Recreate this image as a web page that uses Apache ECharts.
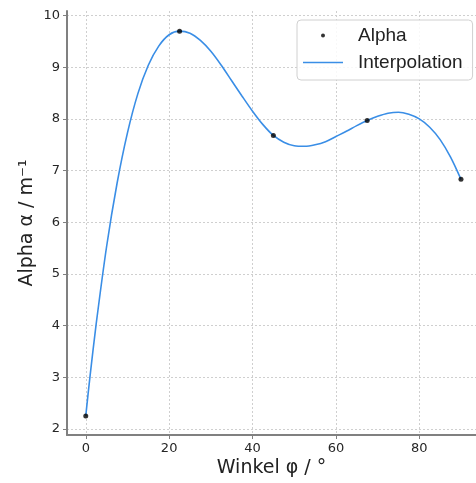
<!DOCTYPE html>
<html>
<head>
<meta charset="utf-8">
<script src="https://cdn.jsdelivr.net/npm/echarts@6/dist/echarts.min.js"></script>
<style>
  html, body { margin: 0; padding: 0; background: #fff; }
  #chart { width: 476px; height: 483px; }
</style>
</head>
<body>
<div id="chart"></div>
<script>
// Messpunkte
let pointX = [0, 22.5, 45, 67.5, 90]
let pointY = [2.25, 9.7, 7.68, 7.97, 6.83]

// Interpolationskurve
let curveX = [0, 1, 2.5, 5, 7.5, 10, 12.5, 15, 17.5, 20, 22.5, 25, 27.5, 30, 32.5, 35, 37.5, 40, 42.5, 45,
  47.5, 50, 52.5, 55, 57.5, 60, 62.5, 65, 67.5, 70, 72.5, 75, 77.5, 80, 82.5, 85, 87.5, 90]
let curveY = [2.25, 3.0, 4.03, 5.53, 6.75, 7.73, 8.49, 9.04, 9.41, 9.63, 9.7, 9.66, 9.52, 9.31, 9.04, 8.74, 8.44, 8.15, 7.89, 7.68,
  7.55, 7.48, 7.47, 7.5, 7.56, 7.66, 7.76, 7.87, 7.97, 8.05, 8.11, 8.13, 8.09, 8.0, 7.84, 7.6, 7.26, 6.83]

let xTicks = [0, 20, 40, 60, 80]
let yTicks = [2, 3, 4, 5, 6, 7, 8, 9, 10]

function zip (xs, ys) {
  let out = []
  for (let i = 0; i < xs.length; i++) {
    out.push([xs[i], ys[i]])
  }
  return out
}

let axisColor = '#808080'
let labelColor = '#262626'
let lineColor = '#3a8ee6'
let gridLine = {
  show: true,
  lineStyle: { color: '#cfcfcf', type: [2, 2], width: 1 }
}

let chart = echarts.init(document.getElementById('chart'))
let option = {
  animation: false,
  grid: {
    left: 67,
    right: 0,
    top: 11,
    bottom: 48,
    containLabel: false
  },
  legend: {
    orient: 'vertical',
    left: 297,
    top: 20,
    padding: [6, 10, 8, 6],
    itemWidth: 40,
    itemHeight: 14,
    itemGap: 8,
    backgroundColor: 'rgba(255,255,255,0.85)',
    borderColor: '#d0d0d0',
    borderWidth: 1,
    borderRadius: 4,
    textStyle: {
      fontFamily: 'Liberation Sans',
      fontSize: 19,
      color: '#222',
      padding: [0, 0, 0, 10]
    },
    data: [
      {
        name: 'Alpha',
        icon: 'path://M0,0M40,14M18,7a2,2 0 1,0 4,0a2,2 0 1,0 -4,0z'
      },
      {
        name: 'Interpolation',
        icon: 'path://M0,0M40,14M0,6.2L40,6.2L40,7.8L0,7.8Z',
        itemStyle: { color: lineColor }
      }
    ]
  },
  xAxis: {
    type: 'value',
    min: -4.5,
    max: 93.6,
    axisLine: { show: true, onZero: false, lineStyle: { color: axisColor, width: 2 } },
    axisTick: { show: true, length: 4, lineStyle: { color: axisColor }, customValues: xTicks },
    axisLabel: {
      color: labelColor,
      fontFamily: 'DejaVu Sans',
      fontSize: 13,
      margin: 7,
      customValues: xTicks
    },
    splitLine: gridLine,
    name: 'Winkel φ / °',
    nameLocation: 'middle',
    nameGap: 24,
    nameMoveOverlap: false,
    nameTextStyle: { fontFamily: 'DejaVu Sans', fontSize: 19, color: '#222' }
  },
  yAxis: {
    type: 'value',
    min: 1.88,
    max: 10.09,
    axisLine: { show: true, onZero: false, lineStyle: { color: axisColor, width: 2 } },
    axisTick: { show: true, length: 4, lineStyle: { color: axisColor }, customValues: yTicks },
    axisLabel: {
      color: labelColor,
      fontFamily: 'DejaVu Sans',
      fontSize: 13,
      margin: 7,
      customValues: yTicks
    },
    splitLine: gridLine,
    name: 'Alpha α / m⁻¹',
    nameLocation: 'middle',
    nameGap: 30,
    nameMoveOverlap: false,
    nameTextStyle: { fontFamily: 'DejaVu Sans', fontSize: 19, color: '#222' }
  },
  series: [
    {
      name: 'Alpha',
      type: 'scatter',
      data: zip(pointX, pointY),
      symbolSize: 5,
      itemStyle: { color: '#000' },
      z: 3
    },
    {
      name: 'Interpolation',
      type: 'line',
      data: zip(curveX, curveY),
      smooth: 0.3,
      symbol: 'none',
      lineStyle: { color: lineColor, width: 1.6 },
      itemStyle: { color: lineColor },
      z: 2
    }
  ]
}
chart.setOption(option)
</script>
</body>
</html>
